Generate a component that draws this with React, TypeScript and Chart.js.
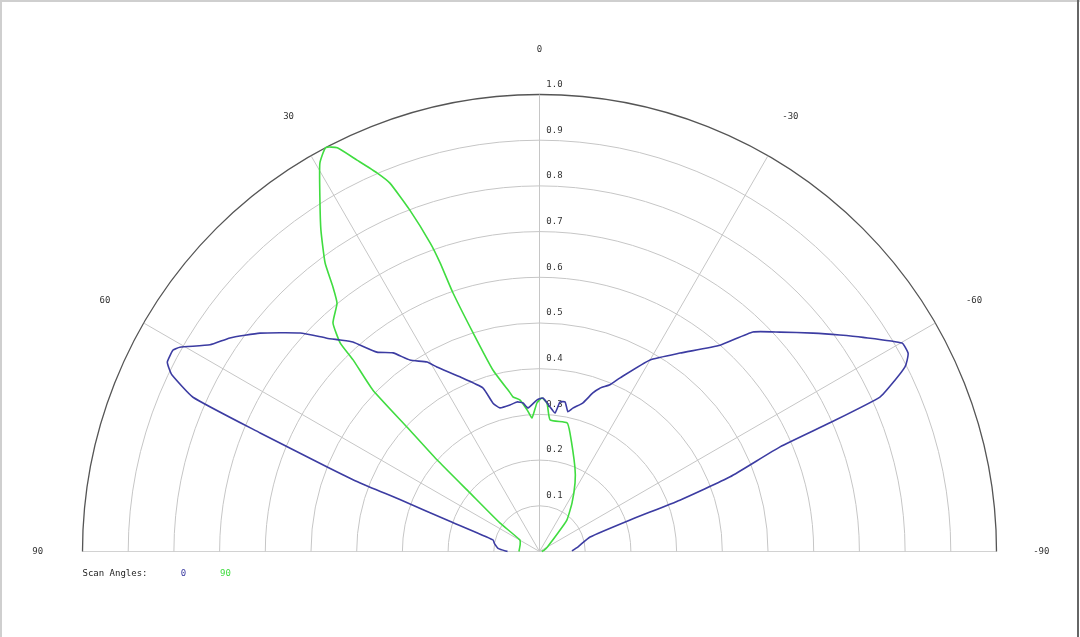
import React, { useEffect, useRef } from "react";
import { Chart, registerables } from "chart.js";

Chart.register(...registerables);

// ---- data ----
const scanAngles = ["0", "90"];

// Scan angle 0 (blue): polar angle in degrees (positive = left), normalized gain
const blueTheta = [
  90, 86, 80, 76, 71.4, 69.6, 69.1, 68.3, 67, 66, 64.35, 63.65, 63, 61.2, 60.4, 57.9, 55.4, 52, 47.6, 44.9,
  43.3, 41.7, 39.2, 36.4, 34.1, 30.7, 29.1, 24.5, 19.1, 17.4, 15.4, 11.4, 8.6, 6.3, 4.6, 0.9, -1.3,
  -4.2, -6.4, -7.8, -9.7, -11.5, -13.1, -16.3, -18.6, -20.3, -22.9, -24.9, -30, -35.3, -41.2, -44.2,
  -47.6, -51.4, -54.2, -56.5, -60.1, -61.7, -62.5, -63.2, -64.25, -65.6, -66.1, -66.5, -68.6, -69.9, -70.8,
  -74, -83, -89,
];
const blueR = [
  0.07, 0.09, 0.1, 0.105, 0.207, 0.326, 0.42, 0.5, 0.664, 0.83, 0.892, 0.905, 0.914, 0.915, 0.905, 0.851,
  0.823, 0.776, 0.709, 0.659, 0.636, 0.614, 0.563, 0.54, 0.506, 0.482, 0.462, 0.42, 0.379, 0.34, 0.326,
  0.327, 0.331, 0.327, 0.315, 0.332, 0.336, 0.317, 0.305, 0.33, 0.332, 0.312, 0.322, 0.339, 0.366, 0.381,
  0.396, 0.419, 0.484, 0.532, 0.6, 0.67, 0.712, 0.766, 0.81, 0.849, 0.915, 0.916, 0.907, 0.896, 0.864,
  0.818, 0.695, 0.574, 0.448, 0.327, 0.21, 0.115, 0.085, 0.071,
];

// Scan angle 90 (green)
const greenTheta = [
  90, 70, 59.5, 54.2, 49.9, 48.2, 46.8, 45.9, 44.2, 43.7, 42.1, 39.2, 38.0, 36.6, 34.2, 31.8, 29.5,
  27.9, 26.6, 25.0, 23.2, 22.1, 20.8, 19.5, 19.0, 18.5, 16.9, 14.4, 10.5, 9.7, 7.3, 5.0, 3.2, 1.0, -0.9,
  -2.9, -4.6, -12.1, -14.4, -22.8, -27.4, -33.8, -41.1, -45, -60, -75, -90,
];
const greenR = [
  0.045, 0.045, 0.05, 0.107, 0.199, 0.301, 0.398, 0.508, 0.585, 0.631, 0.674, 0.701, 0.734, 0.787,
  0.851, 0.912, 0.976, 1.0, 0.988, 0.945, 0.901, 0.87, 0.799, 0.716, 0.668, 0.597, 0.5, 0.41, 0.353,
  0.343, 0.334, 0.311, 0.293, 0.325, 0.336, 0.325, 0.289, 0.288, 0.268, 0.2, 0.169, 0.128, 0.091,
  0.057, 0.02, 0.01, 0.005,
];

const radialTicks = [0.1, 0.2, 0.3, 0.4, 0.5, 0.6, 0.7, 0.8, 0.9, 1.0];
const radialTickLabels = ["0.1", "0.2", "0.3", "0.4", "0.5", "0.6", "0.7", "0.8", "0.9", "1.0"];
const angleTicks = [90, 60, 30, 0, -30, -60, -90];
const spokeAngles = [60, 30, 0, -30, -60];

// ---- layout constants ----
const W = 1080;
const H = 637;
const CX = 539.5;
const CY = 551.5;
const RPX = 457;

const BLUE = "#3c3ca2";
const GREEN = "#40dc40";
const FONT = "9px 'DejaVu Sans Mono', monospace";

function toXY(thetas: number[], rs: number[]) {
  return thetas.map((t, i) => {
    const a = (t * Math.PI) / 180;
    return { x: -rs[i] * Math.sin(a), y: rs[i] * Math.cos(a) };
  });
}

const polarGrid = {
  id: "polarGrid",
  beforeDatasetsDraw(chart: any) {
    const { ctx, scales } = chart;
    const xs = scales.x;
    const ys = scales.y;
    const cx = xs.getPixelForValue(0);
    const cy = ys.getPixelForValue(0);
    const u = xs.getPixelForValue(1) - cx;
    ctx.save();
    ctx.strokeStyle = "#d2d2d2";
    ctx.lineWidth = 1;
    ctx.beginPath();
    ctx.moveTo(cx - u, cy);
    ctx.lineTo(cx + u, cy);
    ctx.stroke();
    radialTicks.forEach((v) => {
      ctx.beginPath();
      ctx.arc(cx, cy, v * u, Math.PI, 2 * Math.PI);
      ctx.strokeStyle = v >= 1 ? "#555555" : "#c6c6c6";
      ctx.lineWidth = v >= 1 ? 1.3 : 1;
      ctx.stroke();
    });
    ctx.strokeStyle = "#c6c6c6";
    ctx.lineWidth = 1;
    spokeAngles.forEach((d) => {
      const a = (d * Math.PI) / 180;
      ctx.beginPath();
      ctx.moveTo(cx, cy);
      ctx.lineTo(cx - Math.sin(a) * u, cy - Math.cos(a) * u);
      ctx.stroke();
    });
    ctx.font = FONT;
    ctx.fillStyle = "#333";
    ctx.textAlign = "center";
    ctx.textBaseline = "middle";
    radialTicks.forEach((v, i) => {
      ctx.fillText(radialTickLabels[i], cx + 15, cy - v * u - 10);
    });
    const rl = u * 1.098;
    angleTicks.forEach((d) => {
      const a = (d * Math.PI) / 180;
      ctx.fillText(String(d), cx - Math.sin(a) * rl, cy - Math.cos(a) * rl);
    });
    const ly = cy + 22;
    ctx.textAlign = "left";
    ctx.fillStyle = "#222";
    ctx.fillText("Scan Angles:", cx - u, ly);
    ctx.textAlign = "center";
    ctx.fillStyle = BLUE;
    ctx.fillText(scanAngles[0], cx - u + 101, ly);
    ctx.fillStyle = GREEN;
    ctx.fillText(scanAngles[1], cx - u + 143, ly);
    ctx.restore();
  },
  afterDraw(chart: any) {
    const { ctx } = chart;
    ctx.save();
    ctx.strokeStyle = "#cfcfcf";
    ctx.lineWidth = 2;
    ctx.beginPath();
    ctx.moveTo(1, H);
    ctx.lineTo(1, 1);
    ctx.lineTo(W, 1);
    ctx.stroke();
    ctx.strokeStyle = "#666";
    ctx.lineWidth = 2;
    ctx.beginPath();
    ctx.moveTo(W - 2, 0);
    ctx.lineTo(W - 2, H);
    ctx.stroke();
    ctx.restore();
  },
};

export default function App() {
  const ref = useRef<HTMLCanvasElement | null>(null);
  useEffect(() => {
    if (!ref.current) return;
    const chart = new Chart(ref.current, {
      type: "scatter",
      data: {
        datasets: [
          {
            label: scanAngles[0],
            data: toXY(blueTheta, blueR),
            showLine: true,
            borderColor: BLUE,
            backgroundColor: BLUE,
            borderWidth: 1.6,
            pointRadius: 0,
            tension: 0.15,
            fill: false,
          },
          {
            label: scanAngles[1],
            data: toXY(greenTheta, greenR),
            showLine: true,
            borderColor: GREEN,
            backgroundColor: GREEN,
            borderWidth: 1.6,
            pointRadius: 0,
            tension: 0.15,
            fill: false,
          },
        ],
      },
      options: {
        responsive: false,
        animation: false,
        events: [],
        layout: { padding: 0, autoPadding: false },
        plugins: { legend: { display: false }, tooltip: { enabled: false } },
        scales: {
          x: { type: "linear", min: -CX / RPX, max: (W - CX) / RPX, display: false },
          y: { type: "linear", min: -(H - CY) / RPX, max: CY / RPX, display: false },
        },
      } as any,
      plugins: [polarGrid],
    });
    return () => chart.destroy();
  }, []);
  return (
    <div style={{ position: "fixed", left: 0, top: 0, width: W, height: H, background: "#fff" }}>
      <canvas ref={ref} width={W} height={H} style={{ display: "block" }} />
    </div>
  );
}
